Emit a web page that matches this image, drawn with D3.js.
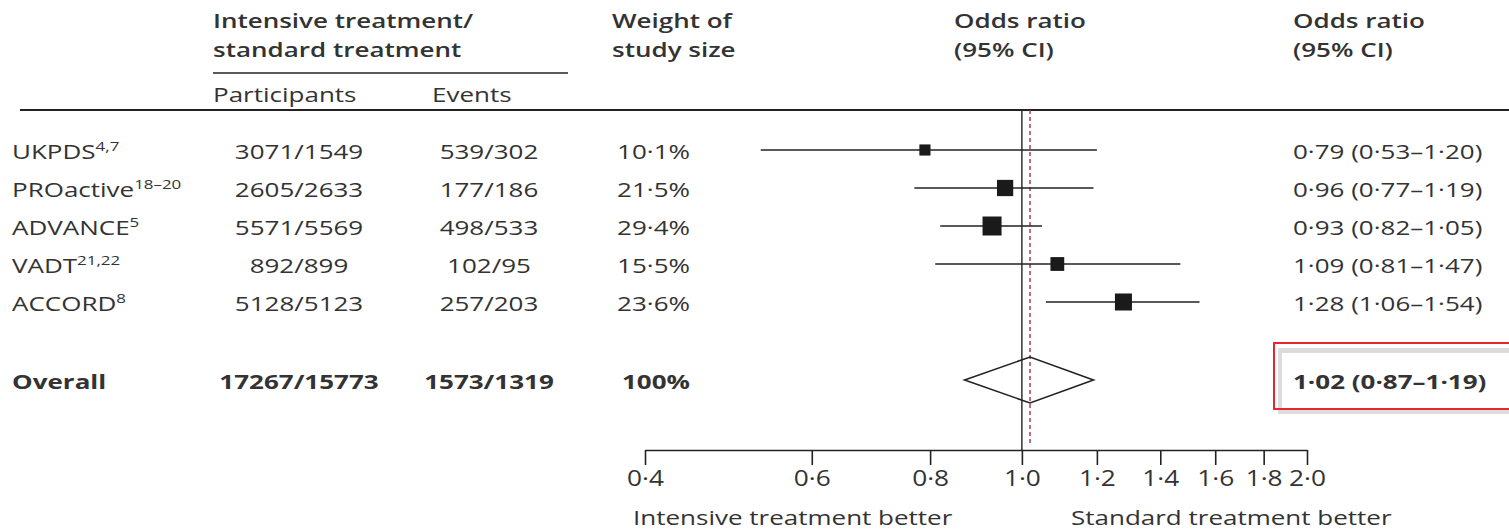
<!DOCTYPE html>
<html>
<head>
<meta charset="utf-8">
<script src="https://cdn.jsdelivr.net/npm/d3@7"></script>
<style>
  html, body { margin: 0; padding: 0; background: #fff; }
  svg { display: block; font-family: "Open Sans", "Noto Sans", sans-serif; }
</style>
</head>
<body>
<svg id="chart" width="1509" height="531"></svg>
<script>
// Study-level data for the forest plot
const studies      = ["UKPDS", "PROactive", "ADVANCE", "VADT", "ACCORD"];
const studyRefs    = ["4,7", "18–20", "5", "21,22", "8"];
const participants = ["3071/1549", "2605/2633", "5571/5569", "892/899", "5128/5123"];
const events       = ["539/302", "177/186", "498/533", "102/95", "257/203"];
const weights      = [10.1, 21.5, 29.4, 15.5, 23.6];
const oddsRatio    = [0.79, 0.96, 0.93, 1.09, 1.28];
const ciLow        = [0.53, 0.77, 0.82, 0.81, 1.06];
const ciHigh       = [1.20, 1.19, 1.05, 1.47, 1.54];

// Pooled estimate
const overallLabel        = "Overall";
const overallParticipants = "17267/15773";
const overallEvents       = "1573/1319";
const overallWeight       = 100;
const overallOR           = [1.02, 0.87, 1.19]; // estimate, lower, upper

// Axis ticks
const tickValues = [0.4, 0.6, 0.8, 1.0, 1.2, 1.4, 1.6, 1.8, 2.0];

const svg = d3.select("#chart");
const ink = "#333";
const SX = 1.3; // horizontal stretch of the typesetting
const dot = s => s.replace(".", "·");
const fmt2 = v => dot(d3.format(".2f")(v));
const fmtW = v => (v === 100 ? "100" : dot(d3.format(".1f")(v))) + "%";

const x = d3.scaleLog().domain([0.4, 2.0]).range([645, 1307]);
const rowY = d3.scaleLinear().domain([0, 1]).range([150, 188]);
const overallY = 380;
const axisY = 450;
const boxSize = d3.scaleSqrt().domain([0, 29.4]).range([0, 19]);

const colLabel = 12, colPart = 299, colEvt = 489, colWt = 690, colCI = 1293;

// Text helper: places a horizontally stretched label
function label(g, tx, ty, str, anchor = "start", size = 20, weight = 400) {
  return g.append("text")
    .attr("transform", `translate(${tx},${ty}) scale(${SX},1)`)
    .attr("text-anchor", anchor)
    .attr("font-size", size)
    .attr("font-weight", weight)
    .attr("fill", ink)
    .text(str);
}

// Header
const head = svg.append("g");
[["Intensive treatment/", 213, 28], ["standard treatment", 213, 57],
 ["Weight of", 612, 28], ["study size", 612, 57],
 ["Odds ratio", 954, 28], ["(95% CI)", 954, 57],
 ["Odds ratio", 1293, 28], ["(95% CI)", 1293, 57]]
  .forEach(([t, tx, ty]) => label(head, tx, ty, t, "start", 20, 600));

svg.append("line").attr("x1", 213).attr("x2", 568).attr("y1", 73).attr("y2", 73)
  .attr("stroke", "#222").attr("stroke-width", 1.6);
label(head, 213, 102, "Participants");
label(head, 432, 102, "Events");
svg.append("line").attr("x1", 20).attr("x2", 1509).attr("y1", 110).attr("y2", 110)
  .attr("stroke", "#222").attr("stroke-width", 1.8);

// Reference lines: no effect (solid) and pooled estimate (dashed)
svg.append("line").attr("x1", x(1)).attr("x2", x(1)).attr("y1", 110).attr("y2", axisY)
  .attr("stroke", "#222").attr("stroke-width", 1.4);
svg.append("line").attr("x1", x(overallOR[0])).attr("x2", x(overallOR[0])).attr("y1", 110).attr("y2", axisY - 4)
  .attr("stroke", "#a8324a").attr("stroke-width", 1.4).attr("stroke-dasharray", "4,3");

// Study rows
const rows = svg.append("g");
studies.forEach((s, i) => {
  const y = rowY(i) + 9;
  const t = label(rows, colLabel, y, s);
  t.append("tspan").attr("font-size", 13).attr("dy", -8).text(studyRefs[i]);
  label(rows, colPart, y, participants[i], "middle");
  label(rows, colEvt, y, events[i], "middle");
  label(rows, colWt, y, fmtW(weights[i]), "end");
  label(rows, colCI, y, `${fmt2(oddsRatio[i])} (${fmt2(ciLow[i])}–${fmt2(ciHigh[i])})`);
});

const marks = svg.append("g");
marks.selectAll("line.ci").data(studies).join("line")
  .attr("x1", (d, i) => x(ciLow[i])).attr("x2", (d, i) => x(ciHigh[i]))
  .attr("y1", (d, i) => rowY(i)).attr("y2", (d, i) => rowY(i))
  .attr("stroke", "#222").attr("stroke-width", 1.6);
marks.selectAll("rect.box").data(studies).join("rect")
  .attr("x", (d, i) => x(oddsRatio[i]) - boxSize(weights[i]) / 2)
  .attr("y", (d, i) => rowY(i) - boxSize(weights[i]) / 2)
  .attr("width", (d, i) => boxSize(weights[i]))
  .attr("height", (d, i) => boxSize(weights[i]))
  .attr("fill", "#1a1a1a");

// Overall row
const ov = svg.append("g");
label(ov, colLabel, overallY + 9, overallLabel, "start", 20, 700);
label(ov, colPart, overallY + 9, overallParticipants, "middle", 20, 700);
label(ov, colEvt, overallY + 9, overallEvents, "middle", 20, 700);
label(ov, colWt, overallY + 9, fmtW(overallWeight), "end", 20, 700);

// Highlight box around the pooled estimate
svg.append("rect").attr("x", 1278).attr("y", 348).attr("width", 240).attr("height", 66).attr("fill", "#dcdcdc");
svg.append("rect").attr("x", 1282).attr("y", 353).attr("width", 240).attr("height", 56).attr("fill", "#fff");
svg.append("rect").attr("x", 1274).attr("y", 343).attr("width", 240).attr("height", 66)
  .attr("fill", "none").attr("stroke", "#e8262a").attr("stroke-width", 2);
label(svg, colCI, overallY + 9,
  `${fmt2(overallOR[0])} (${fmt2(overallOR[1])}–${fmt2(overallOR[2])})`, "start", 20, 700);

// Pooled diamond
const dh = 23;
svg.append("path")
  .attr("d", d3.line()([
    [x(overallOR[1]), overallY], [x(overallOR[0]), overallY - dh],
    [x(overallOR[2]), overallY], [x(overallOR[0]), overallY + dh]
  ]) + "Z")
  .attr("fill", "none").attr("stroke", "#222").attr("stroke-width", 1.6);

// Odds ratio axis (log scale)
const axis = svg.append("g").attr("transform", `translate(0,${axisY})`)
  .call(d3.axisBottom(x).tickValues(tickValues).tickFormat(d => dot(d3.format(".1f")(d)))
    .tickSize(15).tickSizeOuter(0).tickPadding(6));
axis.select(".domain").attr("stroke", "#222").attr("stroke-width", 1.6);
axis.selectAll(".tick line").attr("stroke", "#222").attr("stroke-width", 1.6);
axis.selectAll(".tick text").attr("fill", ink).attr("font-size", 21)
  .attr("font-family", "\"Open Sans\", sans-serif")
  .attr("transform", `scale(${SX - 0.05},1)`);

label(svg, 633, 525, "Intensive treatment better", "start", 20);
label(svg, 1071, 525, "Standard treatment better", "start", 20);
</script>
</body>
</html>
